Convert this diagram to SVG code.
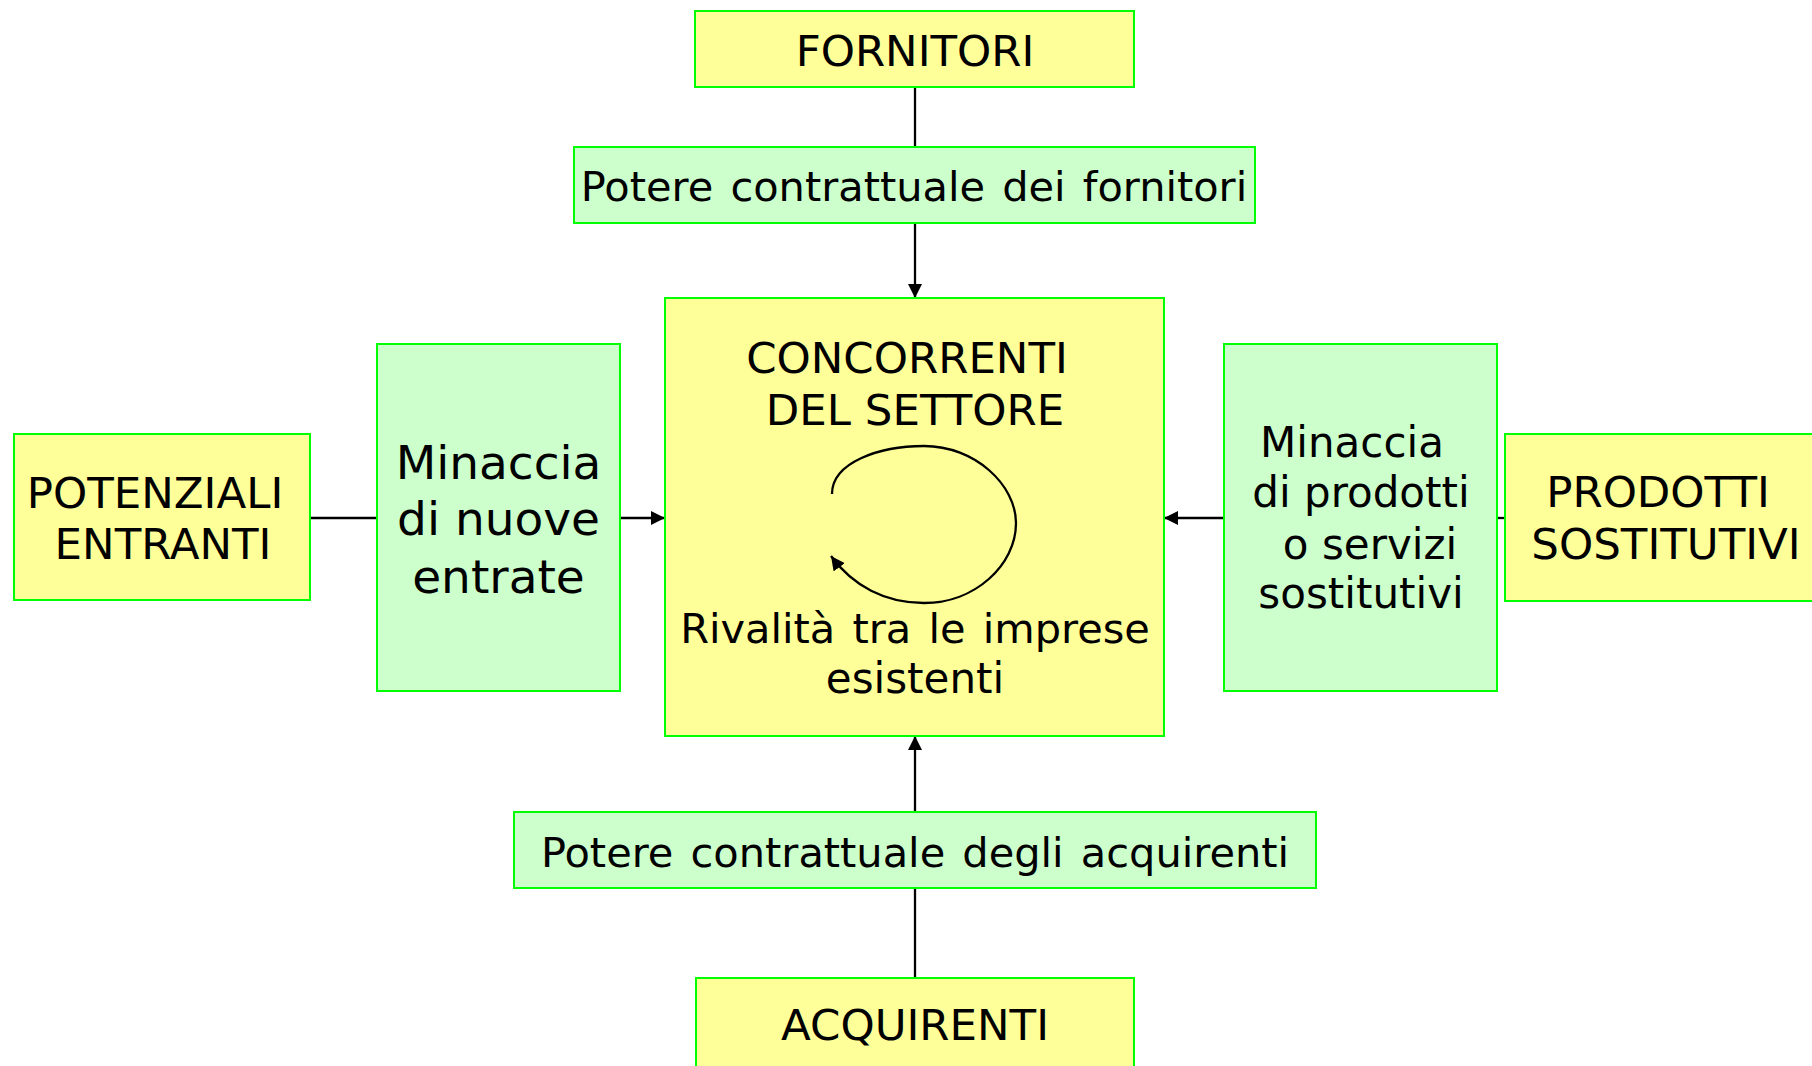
<svg xmlns="http://www.w3.org/2000/svg" width="1812" height="1066" viewBox="0 0 1812 1066">
<style>
.y{fill:#FFFF99;stroke:#00FF00;stroke-width:2}
.g{fill:#CCFFCC;stroke:#00FF00;stroke-width:2}
text{font-family:"DejaVu Sans",Verdana,sans-serif;font-size:42px;fill:#000;text-anchor:middle}
.big{font-size:47px}
.cap{font-size:43.5px}
.ws{font-size:41.5px;word-spacing:4px}
.c{fill:none;stroke:#000;stroke-width:2.3}
</style>
<defs>
<marker id="ah" viewBox="0 0 10 10" refX="10" refY="5" markerWidth="14" markerHeight="14" markerUnits="userSpaceOnUse" orient="auto">
<path d="M0,0 L10,5 L0,10 z" fill="#000"/>
</marker>
</defs>
<rect width="1812" height="1066" fill="#fff"/>
<g id="connectors">
<path class="c" d="M915,87 V147"/>
<path class="c" d="M915,223 V298" marker-end="url(#ah)"/>
<path class="c" d="M310,518 H377"/>
<path class="c" d="M620,518 H665" marker-end="url(#ah)"/>
<path class="c" d="M1497,518 H1505"/>
<path class="c" d="M1224,518 H1164" marker-end="url(#ah)"/>
<path class="c" d="M915,812 V736" marker-end="url(#ah)"/>
<path class="c" d="M915,888 V978"/>
</g>
<g id="fornitori">
<rect class="y" x="695" y="11" width="439" height="76"/>
<text class="cap" x="915" y="66">FORNITORI</text>
</g>
<g id="potere-fornitori">
<rect class="g" x="574" y="147" width="681" height="76"/>
<text class="ws" x="914" y="201">Potere contrattuale dei fornitori</text>
</g>
<g id="concorrenti">
<rect class="y" x="665" y="298" width="499" height="438"/>
<text class="cap" x="907" y="373">CONCORRENTI</text>
<text class="cap" x="915" y="425">DEL SETTORE</text>
<path class="c" d="M832,494 C832,462 880,446 924,446 C975,446 1016,485 1016,523 C1016,565 975,603 924,603 C885,603 853,586 831,556" marker-end="url(#ah)"/>
<text class="ws" x="915" y="643">Rivalità tra le imprese</text>
<text x="915" y="693">esistenti</text>
</g>
<g id="potenziali">
<rect class="y" x="14" y="434" width="296" height="166"/>
<text class="cap" x="155" y="508">POTENZIALI</text>
<text class="cap" x="163" y="559">ENTRANTI</text>
</g>
<g id="minaccia-entrate">
<rect class="g" x="377" y="344" width="243" height="347"/>
<text class="big" x="498.5" y="479">Minaccia</text>
<text class="big" x="498.5" y="535">di nuove</text>
<text class="big" x="498.5" y="593">entrate</text>
</g>
<g id="minaccia-sostitutivi">
<rect class="g" x="1224" y="344" width="273" height="347"/>
<text x="1352" y="457">Minaccia</text>
<text x="1361" y="507">di prodotti</text>
<text x="1370" y="559">o servizi</text>
<text x="1361" y="608">sostitutivi</text>
</g>
<g id="prodotti">
<rect class="y" x="1505" y="434" width="320" height="167"/>
<text class="cap" x="1658" y="507">PRODOTTI</text>
<text class="cap" x="1666" y="559">SOSTITUTIVI</text>
</g>
<g id="potere-acquirenti">
<rect class="g" x="514" y="812" width="802" height="76"/>
<text class="ws" x="915" y="867">Potere contrattuale degli acquirenti</text>
</g>
<g id="acquirenti">
<rect class="y" x="696" y="978" width="438" height="100"/>
<text class="cap" x="915" y="1040">ACQUIRENTI</text>
</g>
</svg>
